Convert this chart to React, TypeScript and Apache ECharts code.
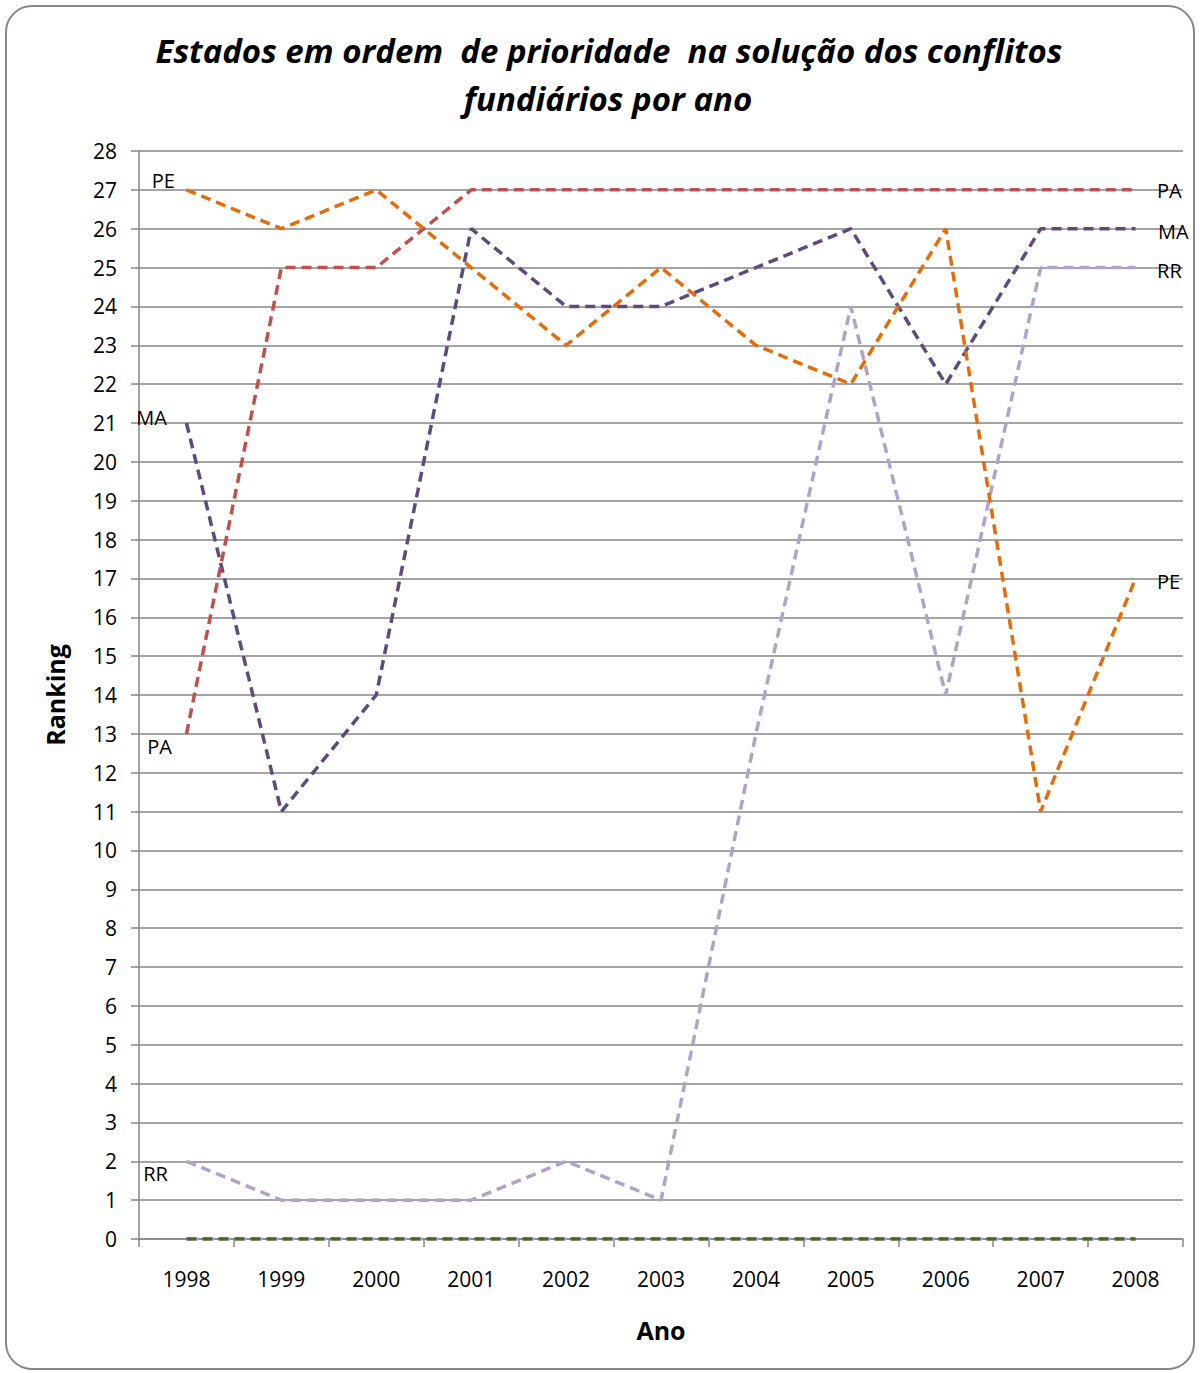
import React, { useEffect, useRef } from "react";
import * as echarts from "echarts";

const years = ["1998", "1999", "2000", "2001", "2002", "2003", "2004", "2005", "2006", "2007", "2008"];
const PE = [27, 26, 27, 25, 23, 25, 23, 22, 26, 11, 17];
const PA = [13, 25, 25, 27, 27, 27, 27, 27, 27, 27, 27];
const MA = [21, 11, 14, 26, 24, 24, 25, 26, 22, 26, 26];
const RR = [2, 1, 1, 1, 2, 1, 13, 24, 14, 25, 25];
const ZERO_A = [0, 0, 0, 0, 0, 0, 0, 0, 0, 0, 0];
const ZERO_B = [0, 0, 0, 0, 0, 0, 0, 0, 0, 0, 0];

const FONT = "'Open Sans', 'Noto Sans', sans-serif";

function withLabels(
  values: number[],
  name: string,
  startOffset: [number, number] | null,
  endOffset: [number, number] | null
) {
  return values.map((v, i) => {
    if (i === 0 && startOffset) {
      return {
        value: v,
        label: {
          show: true,
          formatter: name,
          position: "left",
          distance: 5,
          offset: startOffset,
          color: "#000",
          fontFamily: FONT,
          fontSize: 20,
        },
      };
    }
    if (i === values.length - 1 && endOffset) {
      return {
        value: v,
        label: {
          show: true,
          formatter: name,
          position: "right",
          distance: 5,
          offset: endOffset,
          color: "#000",
          fontFamily: FONT,
          fontSize: 20,
        },
      };
    }
    return { value: v };
  });
}

function lineSeries(name: string, data: any[], color: string, z: number, dash: number[] = [10, 6]) {
  return {
    name,
    type: "line",
    data,
    z,
    symbol: "circle",
    symbolSize: 1,
    showSymbol: true,
    itemStyle: { color: "rgba(0,0,0,0)" },
    lineStyle: { color, width: 3.5, type: dash },
    emphasis: { disabled: true },
  };
}

export default function App() {
  const ref = useRef<HTMLDivElement>(null);
  useEffect(() => {
    if (!ref.current) return;
    const chart = echarts.init(ref.current, null, { renderer: "svg" });
    chart.setOption({
      animation: false,
      backgroundColor: "#fff",
      grid: { left: 139, right: 17, top: 151, bottom: 134, containLabel: false },
      graphic: [
        {
          type: "rect",
          shape: { x: 6, y: 6, width: 1188, height: 1363, r: 26 },
          style: { fill: "none", stroke: "#868686", lineWidth: 2 },
          z: -1,
        },
        {
          type: "text",
          x: 609,
          y: 50,
          style: {
            text: "Estados em ordem  de prioridade  na solução dos conflitos",
            fontFamily: FONT,
            fontSize: 33,
            fontWeight: "bold",
            fontStyle: "italic",
            fill: "#000",
            align: "center",
            verticalAlign: "middle",
          },
        },
        {
          type: "text",
          x: 608,
          y: 98,
          style: {
            text: "fundiários por ano",
            fontFamily: FONT,
            fontSize: 33,
            fontWeight: "bold",
            fontStyle: "italic",
            fill: "#000",
            align: "center",
            verticalAlign: "middle",
          },
        },
      ],
      xAxis: {
        type: "category",
        data: years,
        boundaryGap: true,
        name: "Ano",
        nameLocation: "middle",
        nameGap: 78,
        nameTextStyle: { fontFamily: FONT, fontSize: 25, fontWeight: "bold", color: "#000" },
        axisLine: { show: true, lineStyle: { color: "#868686", width: 1.5 } },
        axisTick: { show: true, length: 8, lineStyle: { color: "#868686", width: 1.5 } },
        axisLabel: { fontFamily: FONT, fontSize: 21, color: "#000", margin: 29 },
        splitLine: { show: false },
      },
      yAxis: {
        type: "value",
        min: 0,
        max: 28,
        interval: 1,
        name: "Ranking",
        nameLocation: "middle",
        nameGap: 72,
        nameRotate: 90,
        nameTextStyle: { fontFamily: FONT, fontSize: 25, fontWeight: "bold", color: "#000" },
        axisLine: { show: true, lineStyle: { color: "#868686", width: 1.5 } },
        axisTick: { show: true, length: 8, lineStyle: { color: "#868686", width: 1.5 } },
        axisLabel: { fontFamily: FONT, fontSize: 21, color: "#000", margin: 22 },
        splitLine: { show: true, lineStyle: { color: "#868686", width: 1.5 } },
      },
      series: [
        lineSeries("Zero A", ZERO_A, "#95B3D7", 2, [12, 4]),
        lineSeries("Zero B", ZERO_B, "#4F6228", 3, [10, 6]),
        lineSeries("RR", withLabels(RR, "RR", [-13, 12], [16, 3]), "#B3A2C7", 4),
        lineSeries("MA", withLabels(MA, "MA", [-14, -6], [17, 3]), "#604A7B", 5),
        lineSeries("PA", withLabels(PA, "PA", [-9, 13], [16, 1]), "#C0504D", 6),
        lineSeries("PE", withLabels(PE, "PE", [-6, -9], [16, 3]), "#E46C0A", 7),
      ],
    });
    return () => chart.dispose();
  }, []);
  return (
    <div
      ref={ref}
      style={{ position: "absolute", left: 0, top: 0, width: 1200, height: 1373 }}
    />
  );
}
